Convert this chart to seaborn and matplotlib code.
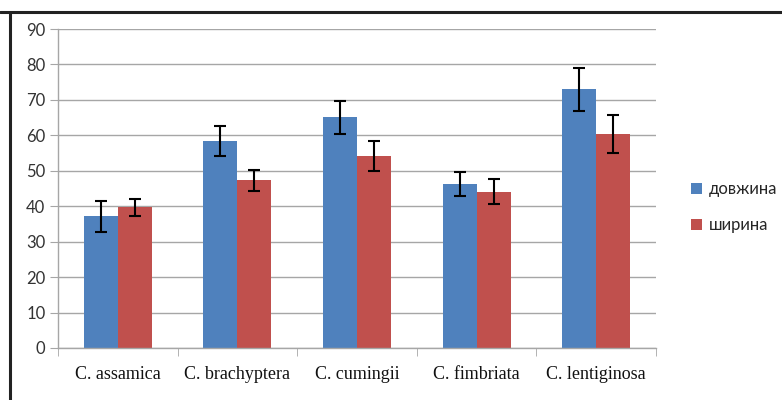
import matplotlib
matplotlib.use("Agg")
import matplotlib.pyplot as plt
from matplotlib.lines import Line2D
from matplotlib.patches import Patch
import numpy as np
import pandas as pd
import seaborn as sns

species = ["C. assamica", "C. brachyptera", "C. cumingii", "C. fimbriata", "C. lentiginosa"]
series = ["довжина", "ширина"]
length_vals = [37.2, 58.4, 65.1, 46.2, 73.0]
width_vals = [39.7, 47.3, 54.2, 44.1, 60.4]
length_err = [4.4, 4.3, 4.7, 3.4, 6.0]
width_err = [2.4, 3.0, 4.2, 3.6, 5.3]
y_ticks = [0, 10, 20, 30, 40, 50, 60, 70, 80, 90]

colors = {"довжина": "#4F81BD", "ширина": "#C0504D"}

df = pd.DataFrame({
    "species": species * 2,
    "series": [series[0]] * 5 + [series[1]] * 5,
    "value": length_vals + width_vals,
    "err": length_err + width_err,
})

sns.set_style("white")
plt.rcParams["font.family"] = ["Lato", "Open Sans", "DejaVu Sans"]

fig = plt.figure(figsize=(7.82, 4.0), dpi=100)
ax = fig.add_axes([58 / 782, 52 / 400, (656 - 58) / 782, (348 - 29) / 400])

sns.barplot(data=df, x="species", y="value", hue="series", palette=colors,
            width=0.57, errorbar=None, ax=ax, legend=False, zorder=2,
            linewidth=0, saturation=1)

# error bars from patch centres
for bars, s in zip(ax.containers, series):
    sub = df[df["series"] == s]
    xs = [b.get_x() + b.get_width() / 2 for b in bars]
    ax.errorbar(xs, sub["value"].values, yerr=sub["err"].values, fmt="none",
                ecolor="black", elinewidth=1.5, capsize=4, capthick=1.5, zorder=3)

ax.set_ylim(0, 90)
ax.set_xlim(-0.5, 4.5)
ax.set_yticks(y_ticks)
ax.yaxis.grid(True, color="#A6A6A6", linewidth=1, zorder=0)
ax.set_axisbelow(True)
ax.set_xlabel("")
ax.set_ylabel("")
for side in ["top", "right"]:
    ax.spines[side].set_visible(False)
for side in ["left", "bottom"]:
    ax.spines[side].set_color("#A6A6A6")
    ax.spines[side].set_linewidth(1)

ax.tick_params(axis="y", length=6, color="#A6A6A6", labelsize=12,
               labelcolor="#333333", pad=3, left=True)
ax.tick_params(axis="x", which="major", length=0, pad=13)
ax.set_xticks(np.arange(-0.5, 5, 1), minor=True)
ax.tick_params(axis="x", which="minor", length=6, color="#A6A6A6", bottom=True)
for lab in ax.get_xticklabels():
    lab.set_family("Liberation Serif")
    lab.set_fontsize(13)
    lab.set_color("#111111")

handles = [Patch(facecolor=colors[s], edgecolor="none") for s in series]
fig.legend(handles, series, loc="center left", bbox_to_anchor=(676 / 782, 1 - 207 / 400),
           frameon=False, fontsize=12, handlelength=0.65, handleheight=0.65,
           handletextpad=0.4, labelspacing=1.2)

# outer frame (top and left edges visible in the reference)
fig.add_artist(Line2D([0, 1], [1 - 11.5 / 400] * 2, transform=fig.transFigure,
                      color="#222222", linewidth=2.2))
fig.add_artist(Line2D([10 / 782] * 2, [0, 1 - 11.5 / 400], transform=fig.transFigure,
                      color="#222222", linewidth=2.2))

fig.savefig("out.png", dpi=100)
